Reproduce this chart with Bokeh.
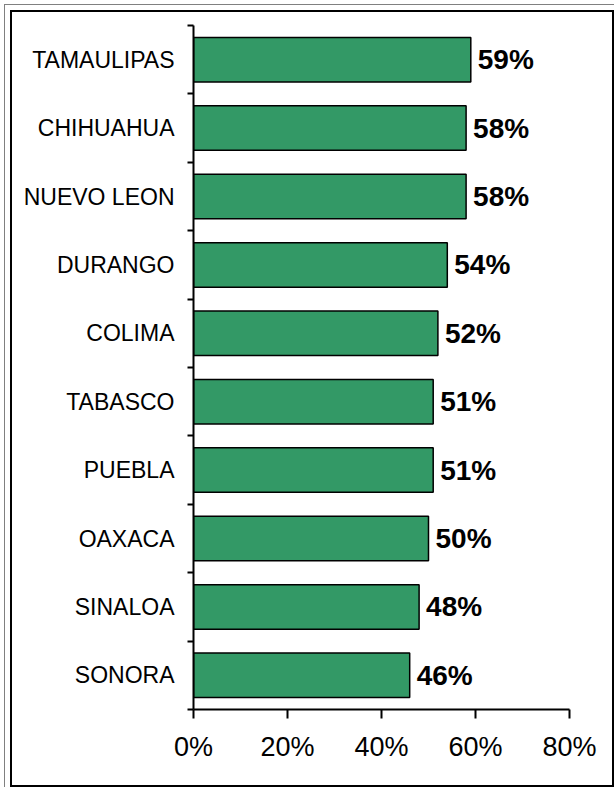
from bokeh.plotting import figure
from bokeh.models import FixedTicker, NumeralTickFormatter, ColumnDataSource, Range1d
from bokeh.core.properties import value
from bokeh.embed import file_html
from bokeh.resources import INLINE

states = ["TAMAULIPAS", "CHIHUAHUA", "NUEVO LEON", "DURANGO", "COLIMA",
          "TABASCO", "PUEBLA", "OAXACA", "SINALOA", "SONORA"]
pct = [59, 58, 58, 54, 52, 51, 51, 50, 48, 46]
x_ticks = [0, 20, 40, 60, 80]

n = len(states)
ypos = [n - 0.5 - i for i in range(n)]
src = ColumnDataSource(dict(
    y=ypos,
    v=[v / 100 for v in pct],
    lab=[f"{v}%" for v in pct],
))

FONT = "Liberation Sans"

p = figure(width=614, height=787, output_backend="svg", toolbar_location=None,
           x_range=Range1d(0, x_ticks[-1] / 100), y_range=Range1d(0, n),
           min_border_left=193, min_border_right=45,
           min_border_top=25, min_border_bottom=78)
p.background_fill_color = None
p.border_fill_color = None
p.outline_line_color = None
p.xgrid.grid_line_color = None
p.ygrid.grid_line_color = None
p.styles = {"box-shadow": ("inset 4px 4px 0 0 #ffffff, inset 5px 5px 0 0 #808080, "
                           "inset 10px 10px 0 0 #ffffff, inset -2px -2px 0 0 #000000, "
                           "inset 12px 12px 0 0 #000000")}

p.hbar(y="y", right="v", left=0, height=0.65, fill_color="#339966",
       line_color="black", line_width=1.5, source=src)
p.text(x="v", y="y", text="lab", x_offset=7, text_align="left",
       text_baseline="middle", text_font=value(FONT), text_font_style="bold",
       text_font_size="28px", text_color="black", source=src)

xa = p.xaxis[0]
xa.ticker = FixedTicker(ticks=[t / 100 for t in x_ticks])
xa.formatter = NumeralTickFormatter(format="0%")
xa.major_tick_out = 9
xa.major_tick_in = 0
xa.minor_tick_out = 0
xa.minor_tick_in = 0
xa.axis_line_width = 2
xa.major_tick_line_width = 2
xa.axis_line_color = "black"
xa.major_tick_line_color = "black"
xa.major_label_text_font = FONT
xa.major_label_text_font_size = "27px"
xa.major_label_text_color = "black"
xa.major_label_standoff = 13

ya = p.yaxis[0]
ya.ticker = FixedTicker(ticks=ypos, minor_ticks=list(range(n + 1)))
ya.major_label_overrides = {y: s for y, s in zip(ypos, states)}
ya.major_tick_out = 0
ya.major_tick_in = 0
ya.minor_tick_out = 6
ya.minor_tick_in = 0
ya.axis_line_width = 2
ya.minor_tick_line_width = 2
ya.axis_line_color = "black"
ya.minor_tick_line_color = "black"
ya.major_label_text_font = FONT
ya.major_label_text_font_size = "23px"
ya.major_label_text_color = "black"
ya.major_label_standoff = 13

open("out.html", "w").write(file_html(p, INLINE))
